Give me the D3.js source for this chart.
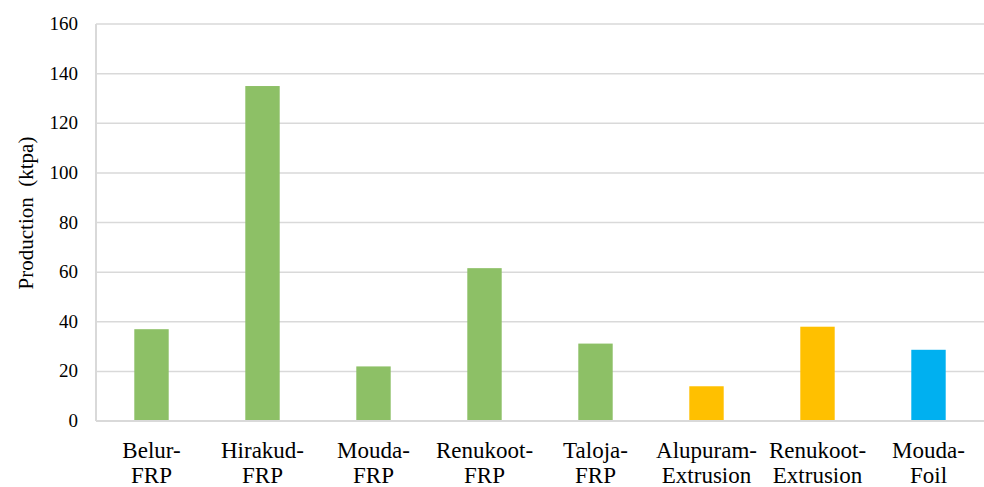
<!DOCTYPE html>
<html><head><meta charset="utf-8">
<script src="https://cdn.jsdelivr.net/npm/d3@7"></script>
</head><body style="margin:0">
<svg id="chart" width="984" height="487" style="position:absolute;left:0;top:0"></svg>
<script>
const categories = [["Belur-","FRP"],["Hirakud-","FRP"],["Mouda-","FRP"],["Renukoot-","FRP"],["Taloja-","FRP"],["Alupuram-","Extrusion"],["Renukoot-","Extrusion"],["Mouda-","Foil"]];
const values = [37, 135, 22, 61.6, 31.2, 14, 38, 28.7];
const groups = ["FRP","FRP","FRP","FRP","FRP","Extrusion","Extrusion","Foil"];
const groupColors = {FRP:"#8DC066", Extrusion:"#FFC000", Foil:"#00B0F0"};
const yTicks = [0,20,40,60,80,100,120,140,160];
const yTitle = "Production\u00a0\u00a0(ktpa)";

const svg = d3.select("#chart");
const m = {l:96, r:0, t:24, b:66};
const W = 984, H = 487;
const x = d3.scaleBand().domain(d3.range(categories.length)).range([m.l, W - m.r]).paddingInner(0.69).paddingOuter(0.345);
const y = d3.scaleLinear().domain([0,160]).range([H - m.b, m.t]);
const K = 2; // draw text large and scale down

svg.append("g").selectAll("line").data(yTicks.filter(d=>d>0)).join("line")
  .attr("x1", m.l).attr("x2", W - m.r)
  .attr("y1", d=>y(d)).attr("y2", d=>y(d))
  .attr("stroke", "#d9d9d9").attr("stroke-width", 1.5);

svg.append("g").selectAll("rect").data(values).join("rect")
  .attr("x", (d,i)=>x(i)).attr("width", x.bandwidth())
  .attr("y", d=>y(d)).attr("height", d=>y(0)-y(d))
  .attr("fill", (d,i)=>groupColors[groups[i]]);

svg.append("line").attr("x1", m.l).attr("x2", m.l).attr("y1", y(160)).attr("y2", y(0))
  .attr("stroke", "#d9d9d9").attr("stroke-width", 2);
svg.append("line").attr("x1", m.l).attr("x2", W - m.r).attr("y1", y(0)).attr("y2", y(0))
  .attr("stroke", "#d9d9d9").attr("stroke-width", 2);

function serifText(g, size, anchor) {
  return g.append("text").attr("x",0).attr("y",0)
    .attr("text-anchor", anchor)
    .attr("font-family","Liberation Serif")
    .style("font-family",'"Liberation Serif"').style("font-size",(size*K)+"px")
    .attr("fill","#000");
}

// y tick labels
svg.selectAll("g.yt").data(yTicks).join("g").attr("class","yt")
  .attr("transform", d=>`translate(${m.l-18},${y(d)+6}) scale(${1/K})`)
  .each(function(d){ serifText(d3.select(this), 19, "end").text(d); });

// x labels
svg.selectAll("g.xl").data(categories).join("g").attr("class","xl")
  .attr("transform", (d,i)=>`translate(${x(i)+x.bandwidth()/2},458) scale(${1/K})`)
  .each(function(d){ serifText(d3.select(this), 23, "middle").text(d[0]); });
svg.selectAll("g.xl2").data(categories).join("g").attr("class","xl2")
  .attr("transform", (d,i)=>`translate(${x(i)+x.bandwidth()/2},483) scale(${1/K})`)
  .each(function(d){ serifText(d3.select(this), 23, "middle").text(d[1]); });

// y title
const gt = svg.append("g").attr("transform", `translate(33,213) rotate(-90) scale(${1/K})`);
serifText(gt, 21, "middle").text(yTitle);
</script>
</body></html>
